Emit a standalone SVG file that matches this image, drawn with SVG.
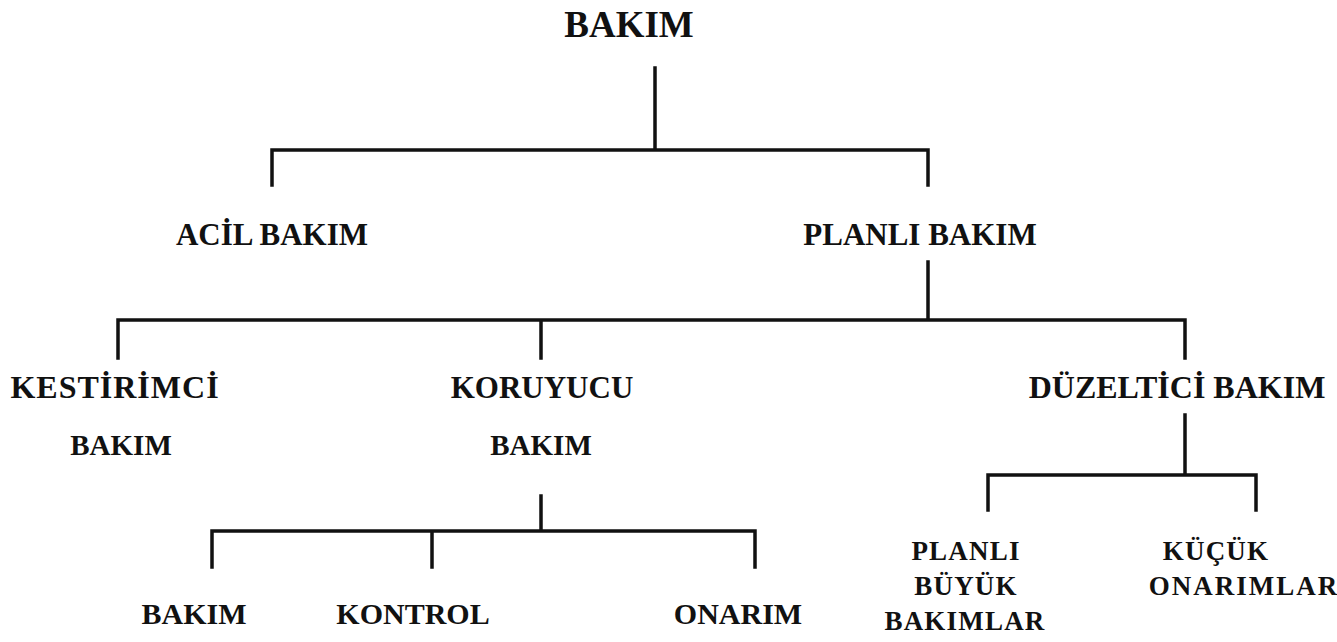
<svg xmlns="http://www.w3.org/2000/svg" width="1337" height="642" viewBox="0 0 1337 642">
<style>
.t{font-family:"Liberation Serif","Times New Roman",serif;font-weight:bold;fill:#111;text-anchor:middle;font-size:31px}
.s{font-size:27px;letter-spacing:1.2px}
.c{stroke:#111;stroke-width:3.5;fill:none;stroke-linecap:square;stroke-linejoin:miter}
</style>
<rect width="1337" height="642" fill="#fff"/>
<g id="connectors">
<path class="c" d="M655,68 V150 M272,185 V150 H928 V185"/>
<path class="c" d="M928,262 V320 M118,358 V320 H1185 V358 M541,320 V358"/>
<path class="c" d="M1185,415 V475 M988,510 V475 H1256 V510"/>
<path class="c" d="M541,496 V531 M212,567 V531 H755 V567 M432,531 V567"/>
</g>
<g id="n-bakim"><text class="t" x="629" y="37" style="font-size:37px">BAKIM</text></g>
<g id="n-acil"><text class="t" x="272" y="245">ACİL BAKIM</text></g>
<g id="n-planli"><text class="t" x="920" y="245">PLANLI BAKIM</text></g>
<g id="n-kestirimci"><text class="t" x="115" y="398" style="font-size:32px;letter-spacing:1px">KESTİRİMCİ</text><text class="t" x="121" y="455" style="font-size:29px">BAKIM</text></g>
<g id="n-koruyucu"><text class="t" x="542" y="398">KORUYUCU</text><text class="t" x="541" y="455" style="font-size:29px">BAKIM</text></g>
<g id="n-duzeltici"><text class="t" x="1177" y="398" style="font-size:32px">DÜZELTİCİ BAKIM</text></g>
<g id="n-bakim2"><text class="t" x="194" y="624" style="font-size:30px">BAKIM</text></g>
<g id="n-kontrol"><text class="t" x="413" y="624" style="font-size:30px">KONTROL</text></g>
<g id="n-onarim"><text class="t" x="738" y="624" style="font-size:30px">ONARIM</text></g>
<g id="n-buyuk"><text class="t s" x="966" y="560">PLANLI</text><text class="t s" x="966" y="595">BÜYÜK</text><text class="t s" x="965" y="630">BAKIMLAR</text></g>
<g id="n-kucuk"><text class="t s" x="1216" y="560">KÜÇÜK</text><text class="t s" x="1244" y="595" style="letter-spacing:2px">ONARIMLAR</text></g>
</svg>
